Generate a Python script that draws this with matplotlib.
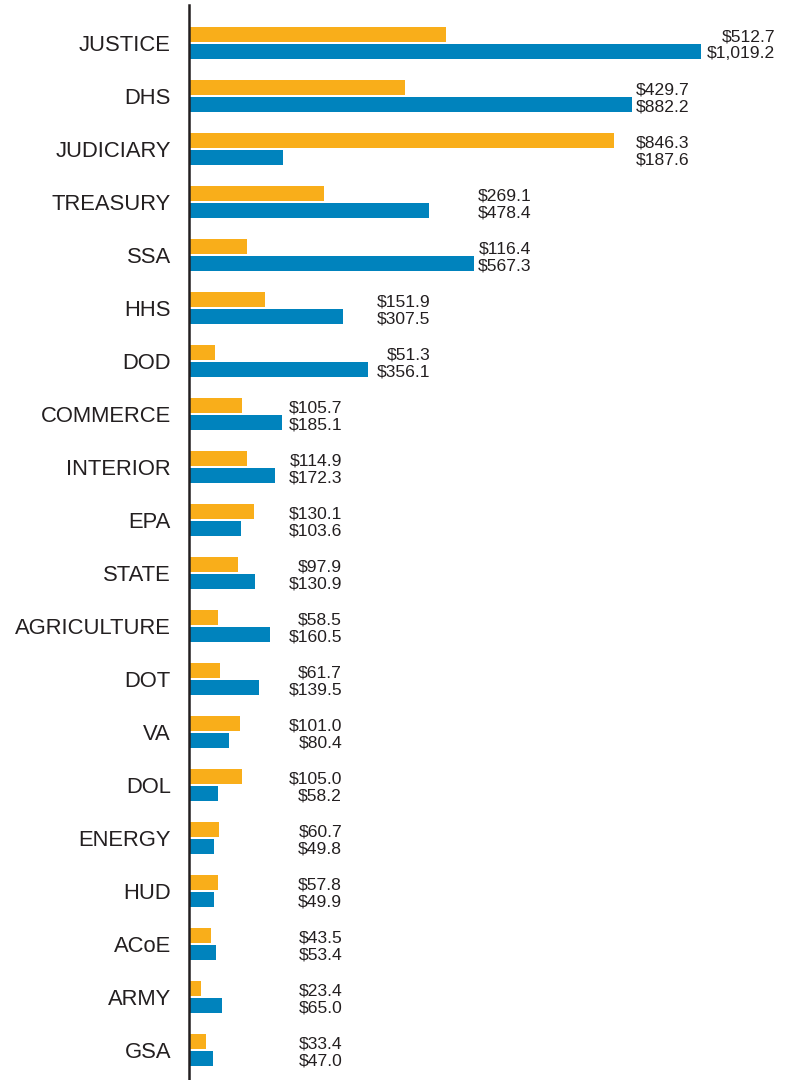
import matplotlib
matplotlib.use("Agg")
import matplotlib.pyplot as plt

categories = ["JUSTICE", "DHS", "JUDICIARY", "TREASURY", "SSA", "HHS", "DOD",
              "COMMERCE", "INTERIOR", "EPA", "STATE", "AGRICULTURE", "DOT", "VA",
              "DOL", "ENERGY", "HUD", "ACoE", "ARMY", "GSA"]
orange_vals = [512.7, 429.7, 846.3, 269.1, 116.4, 151.9, 51.3, 105.7, 114.9, 130.1,
               97.9, 58.5, 61.7, 101.0, 105.0, 60.7, 57.8, 43.5, 23.4, 33.4]
blue_vals = [1019.2, 882.2, 187.6, 478.4, 567.3, 307.5, 356.1, 185.1, 172.3, 103.6,
             130.9, 160.5, 139.5, 80.4, 58.2, 49.8, 49.9, 53.4, 65.0, 47.0]

# layout: right edge of each value-label pair (data units)
label_cols = [1168, 997, 997, 682, 682, 481, 481] + [305] * 13

ORANGE = "#F9AE1A"
BLUE = "#0083BD"
TXT = "#231f20"

W, H = 794, 1080
fig = plt.figure(figsize=(W / 100, H / 100), dpi=100)
left_px = 189
ax = fig.add_axes([left_px / W, 0, (W - left_px) / W, 1075 / H])
scale = 0.502  # px per unit
ax.set_xlim(0, (W - left_px) / scale)
row0, step = 43, 53
ax.set_ylim((1080 - row0) / step, (5 - row0) / step)

h = 0.3
for i, (c, o, b, lx) in enumerate(zip(categories, orange_vals, blue_vals, label_cols)):
    ax.barh(i - 0.16, o, height=h, color=ORANGE, linewidth=0)
    ax.barh(i + 0.16, b, height=h, color=BLUE, linewidth=0)
    ax.text(lx, i - 0.12, f"${o:,.1f}", ha="right", va="center",
            fontsize=12.6, family="Liberation Sans", color=TXT)
    ax.text(lx, i + 0.2, f"${b:,.1f}", ha="right", va="center",
            fontsize=12.6, family="Liberation Sans", color=TXT)

ax.set_yticks(range(len(categories)))
ax.set_yticklabels(categories, fontsize=15.8, family="Liberation Sans", color=TXT)
ax.tick_params(axis="y", length=0, pad=13)
ax.set_xticks([])
for s in ["top", "right", "bottom"]:
    ax.spines[s].set_visible(False)
ax.spines["left"].set_linewidth(1.8)
ax.spines["left"].set_color(TXT)
ax.set_facecolor("white")
fig.patch.set_facecolor("white")

fig.savefig("out.png", dpi=100)
